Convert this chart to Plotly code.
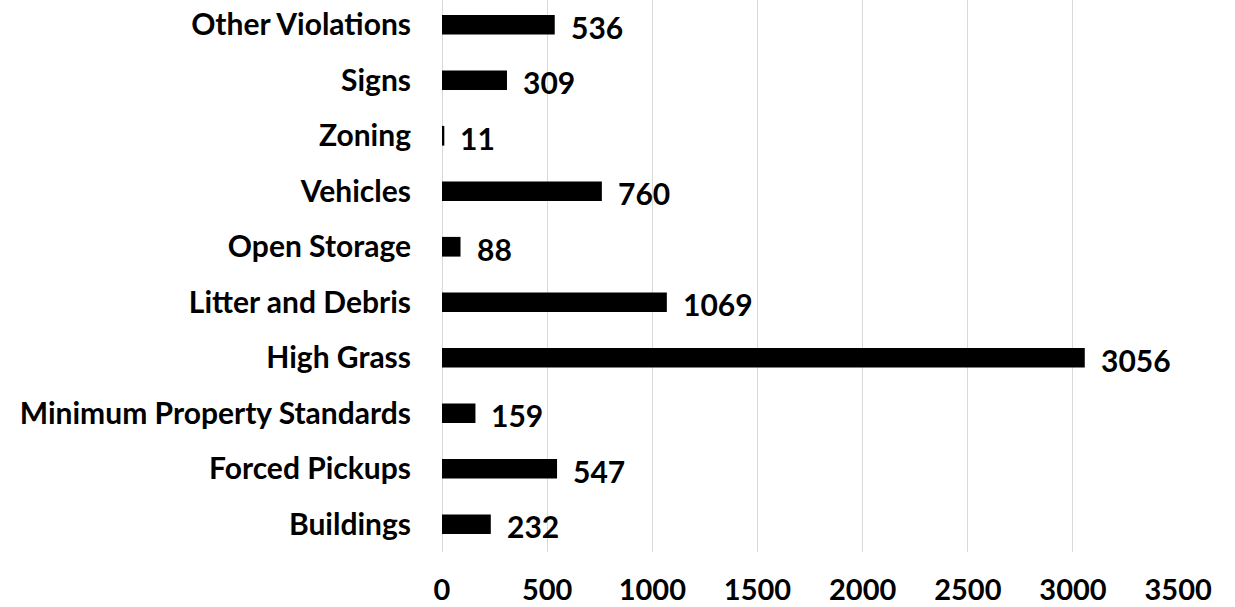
import plotly.graph_objects as go

categories = ["Buildings", "Forced Pickups", "Minimum Property Standards", "High Grass",
              "Litter and Debris", "Open Storage", "Vehicles", "Zoning", "Signs", "Other Violations"]
values = [232, 547, 159, 3056, 1069, 88, 760, 11, 309, 536]
x_ticks = [0, 500, 1000, 1500, 2000, 2500, 3000, 3500]

FONT = "Lato"
FS = 30

fig = go.Figure()
fig.add_trace(go.Bar(
    x=values, y=categories, orientation="h",
    marker=dict(color="black", line=dict(width=0)),
    hoverinfo="x+y",
))

for c, v in zip(categories, values):
    fig.add_annotation(
        x=v, y=c, text=f"<b>{v}</b>", showarrow=False,
        xanchor="left", yanchor="middle", xshift=14, yshift=-2,
        font=dict(family=FONT, size=FS, color="black"),
    )

fig.update_layout(
    width=1235, height=607,
    margin=dict(l=442, r=56, t=0, b=55, pad=0),
    paper_bgcolor="white", plot_bgcolor="white",
    bargap=0.645, showlegend=False,
    font=dict(family=FONT, size=FS, color="black"),
)
fig.update_xaxes(
    range=[0, 3504], tickvals=x_ticks, ticktext=[f"<b>{t}</b>" for t in x_ticks],
    showgrid=True, gridcolor="#d9d9d9", gridwidth=1,
    zeroline=True, zerolinecolor="#d9d9d9", zerolinewidth=1,
    showline=False, ticks="", ticklabelstandoff=18, automargin=False,
    tickfont=dict(family=FONT, size=29, color="black"),
)
fig.update_yaxes(
    categoryorder="array", categoryarray=categories,
    range=[-0.5, 9.446],
    ticktext=[f"<b>{c}</b>" for c in categories], tickvals=categories,
    showgrid=False, zeroline=False, showline=False, ticks="",
    ticklabelstandoff=30, automargin=False,
    tickfont=dict(family=FONT, size=FS, color="black"),
)

fig.write_html("out.html", post_script="document.body.style.margin='0';",
               config={"displayModeBar": False})
